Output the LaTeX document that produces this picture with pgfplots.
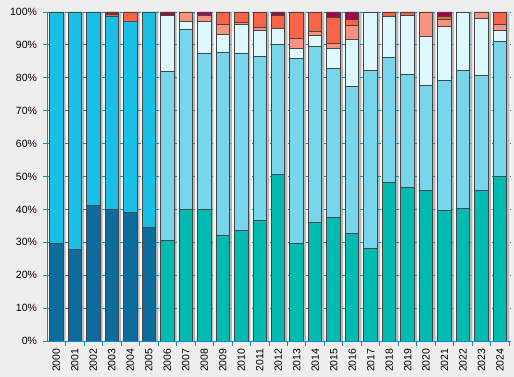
\documentclass[border=0pt]{standalone}
\usepackage{pgfplots}
\pgfplotsset{compat=1.18}
\usepackage{pgfplotstable}
\usepackage{fontspec}
\setmainfont{Liberation Sans}
\definecolor{bgc}{HTML}{EEEEEE}
\definecolor{plotbg}{HTML}{FAFAFA}
\definecolor{axblue}{HTML}{0A8AD0}
\definecolor{outl}{HTML}{454545}
\definecolor{cA}{HTML}{0E6C9C}
\definecolor{cB}{HTML}{19C0E6}
\definecolor{cC}{HTML}{00BCB0}
\definecolor{cD}{HTML}{78D6EC}
\definecolor{cE}{HTML}{DDF8FF}
\definecolor{cF}{HTML}{FA9280}
\definecolor{cG}{HTML}{FA6446}
\definecolor{cH}{HTML}{A8004E}

\pgfplotstableread{
x A B C D E F G H S
0 29.7 70.3 0 0 0 0 0 0 100
1 27.9 72.1 0 0 0 0 0 0 100
2 41.2 58.8 0 0 0 0 0 0 100
3 40.0 58.5 0 0 0 0 0.9 0.6 100
4 39.1 57.9 0 0 0 0 3.0 0 100
5 34.6 65.4 0 0 0 0 0 0 100
6 0 0 30.6 51.2 17.1 0 0 1.1 100
7 0 0 40.0 54.7 2.5 2.8 0 0 100
8 0 0 40.0 47.4 9.8 1.9 0 0.9 100
9 0 0 32.1 55.6 5.5 3.1 3.7 0 100
10 0 0 33.6 53.8 8.9 0.6 3.1 0 100
11 0 0 36.7 49.8 7.9 0.9 4.7 0 100
12 0 0 50.7 39.5 4.8 0 4.0 1.0 100
13 0 0 29.7 56.2 3.1 3.0 8.0 0 100
14 0 0 36.1 53.5 3.3 1.2 5.9 0 100
15 0 0 37.6 45.3 6.1 1.5 7.9 1.6 100
16 0 0 32.7 44.7 14.3 4.3 1.8 2.2 100
17 0 0 28.2 54.1 17.7 0 0 0 100
18 0 0 48.3 37.9 12.5 0 1.3 0 100
19 0 0 46.7 34.3 18.0 0 1.0 0 100
20 0 0 45.8 31.9 14.9 7.4 0 0 100
21 0 0 39.7 39.5 16.5 2.1 0.9 1.3 100
22 0 0 40.3 42.0 17.7 0 0 0 100
23 0 0 45.8 35.0 17.3 1.9 0 0 100
24 0 0 50.1 41.0 3.3 1.9 3.7 0 100
}\data

\begin{document}
\begin{tikzpicture}
\fill[bgc] (-47.5pt,-36pt) rectangle (466.5pt,341pt);
\fill[plotbg] (0,0) rectangle (463.5pt,329pt);
\pgfplotsset{common/.style={scale only axis, width=463.5pt, height=329pt,
  xmin=-0.476, xmax=24.59, ymin=0, ymax=100, anchor=south west, at={(0pt,0pt)}}}
\begin{axis}[common, hide axis, ybar, bar width=13.5pt]
\addplot[fill=black!28, draw=none, bar shift=2.5pt] table[x=x, y=S]{\data};
\end{axis}
\begin{axis}[common, ybar stacked, bar width=13.5pt,
  axis x line*=bottom, axis y line*=left,
  axis line style={draw=axblue, line width=0.9pt, -},
  tick align=outside,
  ytick={0,10,...,100},
  yticklabels={0\%,10\%,20\%,30\%,40\%,50\%,60\%,70\%,80\%,90\%,100\%},
  y tick label style={xshift=-3pt},
  xtick={0,...,24},
  xticklabels={2000,2001,2002,2003,2004,2005,2006,2007,2008,2009,2010,2011,2012,2013,2014,2015,2016,2017,2018,2019,2020,2021,2022,2023,2024},
  x tick label style={rotate=90, anchor=east},
  major x tick style={draw=none},
  minor xtick={-0.5,0.5,...,24.5},
  minor x tick style={draw=axblue, line width=0.9pt},
  major y tick style={draw=axblue, line width=0.9pt},
  major tick length=4pt, minor tick length=5pt,
  ymajorgrids,
  major grid style={draw=axblue, dash pattern=on 3pt off 3pt, line width=0.8pt},
  tick label style={font=\fontsize{10.5}{12}\selectfont, text=black},
  every axis plot/.append style={draw=outl, line width=0.9pt},
]
\addplot[fill=cA] table[x=x, y=A]{\data};
\addplot[fill=cB] table[x=x, y=B]{\data};
\addplot[fill=cC] table[x=x, y=C]{\data};
\addplot[fill=cD] table[x=x, y=D]{\data};
\addplot[fill=cE] table[x=x, y=E]{\data};
\addplot[fill=cF] table[x=x, y=F]{\data};
\addplot[fill=cG] table[x=x, y=G]{\data};
\addplot[fill=cH] table[x=x, y=H]{\data};
\end{axis}
\end{tikzpicture}
\end{document}
